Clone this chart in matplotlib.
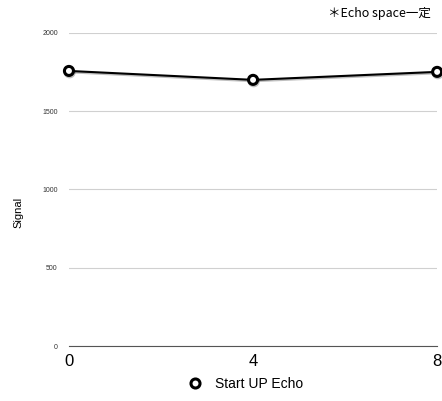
import matplotlib
matplotlib.use('Agg')
import matplotlib.pyplot as plt
import matplotlib.patheffects as pe
from matplotlib.lines import Line2D

plt.rcParams['font.family'] = ['Liberation Sans', 'Noto Sans CJK JP', 'DejaVu Sans']

# Data
x_vals = [0, 4, 8]
signal = [1757, 1700, 1751]
y_ticks = [0, 500, 1000, 1500, 2000]

fig = plt.figure(figsize=(4.42, 4.01), dpi=100)
ax = fig.add_axes([0.156, 0.137, 0.833, 0.781])

ax.plot(x_vals, signal, color='black', linewidth=1.5, marker='o', markersize=6.5,
        markerfacecolor='white', markeredgecolor='black', markeredgewidth=2.2,
        clip_on=False, zorder=5,
        path_effects=[pe.SimpleLineShadow(offset=(0.5, -1), alpha=0.25), pe.Normal()])

ax.set_xlim(0, 8)
ax.set_ylim(0, 2000)
ax.set_xticks(x_vals)
ax.set_yticks(y_ticks)
ax.tick_params(axis='x', labelsize=12, length=0, pad=6)
ax.tick_params(axis='y', labelsize=5, length=0, pad=8, labelcolor='#333333')
ax.grid(axis='y', color='#d0d0d0', linewidth=0.8)
ax.set_axisbelow(True)
for s in ['top', 'right', 'left']:
    ax.spines[s].set_visible(False)
ax.spines['bottom'].set_color('#555555')
ax.spines['bottom'].set_linewidth(0.8)

fig.text(0.042, 0.47, 'Signal', rotation=90, fontsize=8, ha='center', va='center')
fig.text(0.975, 0.967, '＊Echo space一定', fontsize=9, ha='right', va='center',
         family=['Noto Sans CJK JP', 'DejaVu Sans'])

handle = Line2D([], [], linestyle='none', marker='o', markersize=6.5,
                markerfacecolor='white', markeredgecolor='black', markeredgewidth=2.2)
ax.legend([handle], ['Start UP Echo'], loc='center', bbox_to_anchor=(0.48, -0.12),
          frameon=False, fontsize=10, handlelength=1.0, handletextpad=0.9,
          borderaxespad=0)

plt.savefig('out.png', dpi=100)
